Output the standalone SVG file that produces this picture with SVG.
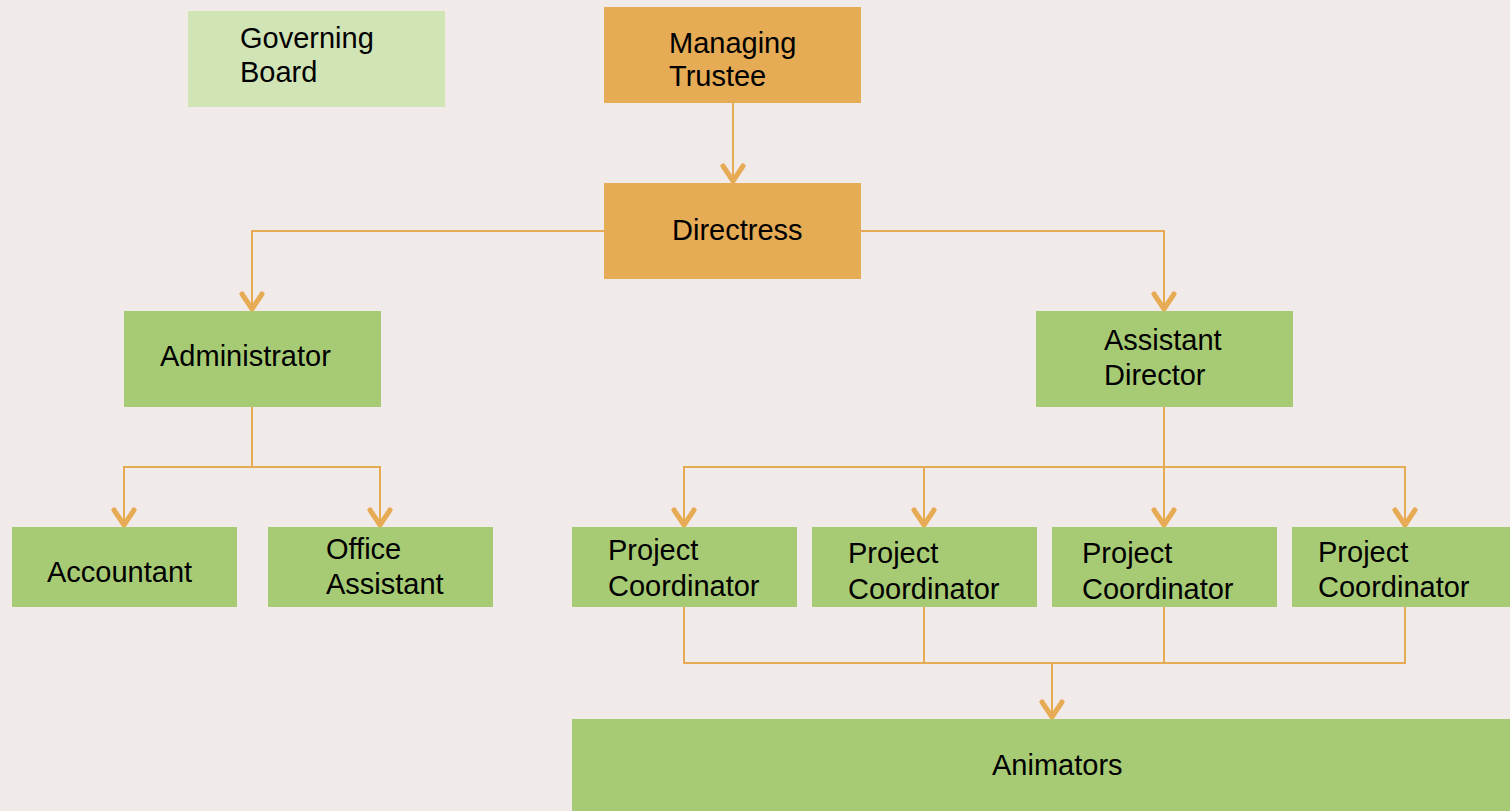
<svg xmlns="http://www.w3.org/2000/svg" width="1510" height="811" viewBox="0 0 1510 811">
<style>
.t{font-family:"Liberation Sans",Arial,sans-serif;font-size:29px;fill:#000}
.or{fill:#e5ab55}
.gr{fill:#a7cb74}
.lg{fill:#d1e4b6}
.c{fill:none;stroke:#e8ab55;stroke-width:2}
</style>
<defs>
<marker id="ah" markerUnits="userSpaceOnUse" viewBox="-20 -14 22 28" refX="0" refY="0" markerWidth="22" markerHeight="28" orient="auto" overflow="visible">
<path d="M-17,-10 L-2,0 L-17,10" fill="none" stroke="#e8ab55" stroke-width="5" stroke-linecap="round" stroke-linejoin="round"/>
</marker>
</defs>
<rect width="1510" height="811" fill="#f0ebe8"/>
<g id="connectors">
<path class="c" d="M733,103 V183" marker-end="url(#ah)"/>
<path class="c" d="M604,231 H252 V311" marker-end="url(#ah)"/>
<path class="c" d="M861,231 H1164 V311" marker-end="url(#ah)"/>
<path class="c" d="M252,407 V467 H124 V527" marker-end="url(#ah)"/>
<path class="c" d="M252,467 H380 V527" marker-end="url(#ah)"/>
<path class="c" d="M1164,407 V467 H684 V527" marker-end="url(#ah)"/>
<path class="c" d="M924,467 V527" marker-end="url(#ah)"/>
<path class="c" d="M1164,467 V527" marker-end="url(#ah)"/>
<path class="c" d="M1164,467 H1405 V527" marker-end="url(#ah)"/>
<path class="c" d="M684,607 V663 H1405 V607"/>
<path class="c" d="M924,607 V663"/>
<path class="c" d="M1164,607 V663"/>
<path class="c" d="M1052,663 V719" marker-end="url(#ah)"/>
</g>
<g id="governing-board">
<rect class="lg" x="188" y="11" width="257" height="96"/>
<text class="t" x="240" y="48">Governing</text>
<text class="t" x="240" y="82">Board</text>
</g>
<g id="managing-trustee">
<rect class="or" x="604" y="7" width="257" height="96"/>
<text class="t" x="669" y="53">Managing</text>
<text class="t" x="669" y="86">Trustee</text>
</g>
<g id="directress">
<rect class="or" x="604" y="183" width="257" height="96"/>
<text class="t" x="672" y="240">Directress</text>
</g>
<g id="administrator">
<rect class="gr" x="124" y="311" width="257" height="96"/>
<text class="t" x="160" y="366">Administrator</text>
</g>
<g id="assistant-director">
<rect class="gr" x="1036" y="311" width="257" height="96"/>
<text class="t" x="1104" y="350">Assistant</text>
<text class="t" x="1104" y="385">Director</text>
</g>
<g id="accountant">
<rect class="gr" x="12" y="527" width="225" height="80"/>
<text class="t" x="47" y="582">Accountant</text>
</g>
<g id="office-assistant">
<rect class="gr" x="268" y="527" width="225" height="80"/>
<text class="t" x="326" y="559">Office</text>
<text class="t" x="326" y="594">Assistant</text>
</g>
<g id="project-coordinator-1">
<rect class="gr" x="572" y="527" width="225" height="80"/>
<text class="t" x="608" y="560">Project</text>
<text class="t" x="608" y="596">Coordinator</text>
</g>
<g id="project-coordinator-2">
<rect class="gr" x="812" y="527" width="225" height="80"/>
<text class="t" x="848" y="563">Project</text>
<text class="t" x="848" y="599">Coordinator</text>
</g>
<g id="project-coordinator-3">
<rect class="gr" x="1052" y="527" width="225" height="80"/>
<text class="t" x="1082" y="563">Project</text>
<text class="t" x="1082" y="599">Coordinator</text>
</g>
<g id="project-coordinator-4">
<rect class="gr" x="1292" y="527" width="218" height="80"/>
<text class="t" x="1318" y="562">Project</text>
<text class="t" x="1318" y="597">Coordinator</text>
</g>
<g id="animators">
<rect class="gr" x="572" y="719" width="938" height="92"/>
<text class="t" x="992" y="775">Animators</text>
</g>
</svg>
